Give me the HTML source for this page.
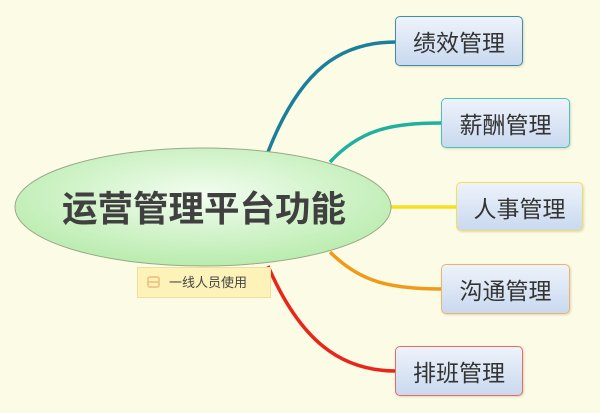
<!DOCTYPE html>
<html><head><meta charset="utf-8"><style>
body{margin:0;width:600px;height:413px;background:#fcfce6;overflow:hidden;font-family:"Liberation Sans","Noto Sans CJK SC",sans-serif}
.b{position:absolute;box-sizing:border-box;border-radius:5px;background:linear-gradient(#eef3fb,#c9d9ef);font-size:23px;color:#333;display:flex;align-items:center;justify-content:center;box-shadow:1px 1px 2px rgba(0,0,0,.15)}
</style></head><body>
<svg width="600" height="413" style="position:absolute;left:0;top:0">
<defs><radialGradient id="g" cx="50%" cy="40%" r="60%"><stop offset="0" stop-color="#f3fdf0"/><stop offset="1" stop-color="#b9ecae"/></radialGradient></defs>
<path d="M268 152 C300 70,340 42,396 42" stroke="#1a7f9a" stroke-width="3.5" fill="none"/>
<path d="M330 162 C360 130,390 123,442 123" stroke="#1fb0a0" stroke-width="3.5" fill="none"/>
<path d="M380 207 L457 207" stroke="#f5e020" stroke-width="3.5" fill="none"/>
<path d="M330 252 C360 282,390 289,442 289" stroke="#f19a18" stroke-width="3.5" fill="none"/>
<path d="M268 266 C300 340,340 371,396 371" stroke="#e8261a" stroke-width="3.5" fill="none"/>
<ellipse cx="203" cy="207" rx="188" ry="59" fill="url(#g)" stroke="#9aa888" stroke-width="1"/>
<text x="204" y="221" text-anchor="middle" font-size="35.5" font-weight="bold" fill="#404040" font-family="Liberation Sans,Noto Sans CJK SC,sans-serif">运营管理平台功能</text>
</svg>
<div style="position:absolute;left:137px;top:267px;width:134px;height:31px;background:#fdf2b8;border:1px solid #f0e19a;box-sizing:border-box;font-size:13px;color:#444;line-height:29px">
<span style="position:absolute;left:9px;top:8px;width:13px;height:12px;border:2px solid #f0c98a;box-sizing:border-box;border-radius:3px"></span>
<span style="position:absolute;left:9px;top:13px;width:13px;height:2px;background:#f0c98a"></span>
<span style="position:absolute;left:31px">一线人员使用</span></div>
<div class="b" style="left:395px;top:16px;width:128px;height:50px;border:1.5px solid #3f8ea5">绩效管理</div>
<div class="b" style="left:441px;top:98px;width:129px;height:50px;border:1.5px solid #4cc3b5">薪酬管理</div>
<div class="b" style="left:456px;top:182px;width:127px;height:49px;border:1.5px solid #f1e05a">人事管理</div>
<div class="b" style="left:441px;top:264px;width:129px;height:50px;border:1.5px solid #f1b36a">沟通管理</div>
<div class="b" style="left:395px;top:346px;width:128px;height:50px;border:1.5px solid #e86a60">排班管理</div>
</body></html>
